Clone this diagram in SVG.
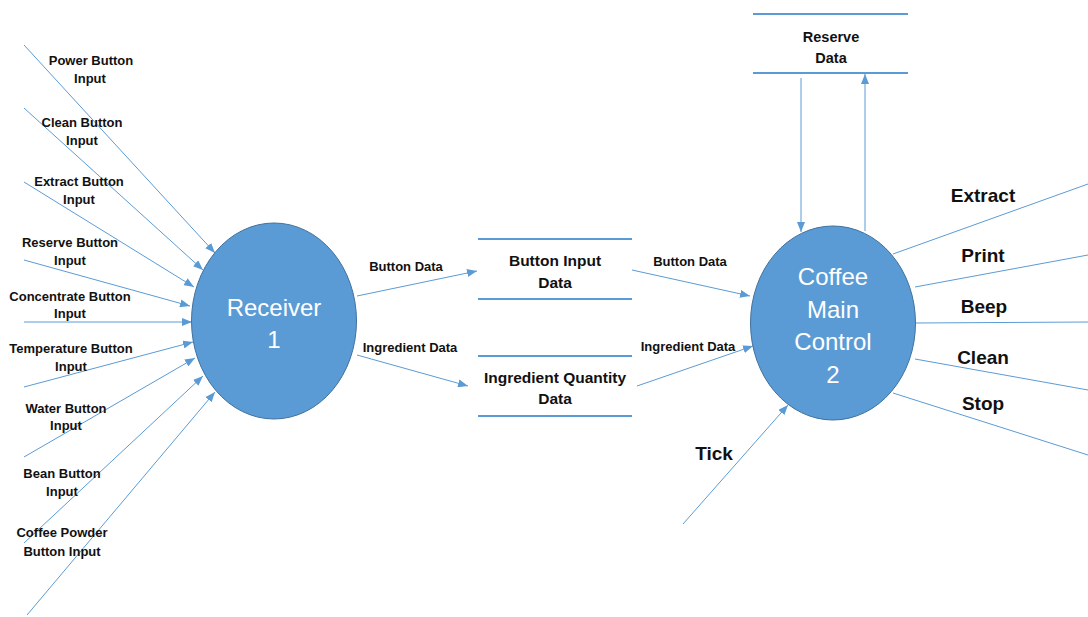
<svg xmlns="http://www.w3.org/2000/svg" width="1088" height="617" viewBox="0 0 1088 617">
  <style>
    .flow { stroke: #5b9bd5; stroke-width: 1; fill: none; }
    .arrow { marker-end: url(#head); }
    .store { stroke: #5b9bd5; stroke-width: 2; }
    .proc { fill: #5b9bd5; stroke: #41719c; stroke-width: 1; }
    .ptxt { font-family: "Liberation Sans", Arial, sans-serif; font-size: 24px; fill: #ffffff; text-anchor: middle; }
    .lbl { font-family: "Liberation Sans", Arial, sans-serif; font-size: 13px; font-weight: bold; fill: #111; text-anchor: middle; }
    .stxt { font-family: "Liberation Sans", Arial, sans-serif; font-size: 15.5px; font-weight: bold; fill: #111; text-anchor: middle; }
    .out { font-family: "Liberation Sans", Arial, sans-serif; font-size: 19px; font-weight: bold; fill: #111; text-anchor: middle; }
  </style>
  <defs>
    <marker id="head" markerUnits="userSpaceOnUse" markerWidth="10" markerHeight="8" refX="10" refY="4" orient="auto">
      <path d="M0,0 L10,4 L0,8 z" fill="#5b9bd5"/>
    </marker>
  </defs>
  <rect width="1088" height="617" fill="#ffffff"/>

  <!-- connectors -->
  <g id="connectors">
    <!-- button inputs into the receiver -->
    <line class="flow arrow" x1="24" y1="45" x2="215" y2="253"/>
    <line class="flow arrow" x1="24" y1="108" x2="203" y2="270"/>
    <line class="flow arrow" x1="24" y1="182" x2="194" y2="287"/>
    <line class="flow arrow" x1="24" y1="260" x2="190" y2="306"/>
    <line class="flow arrow" x1="24" y1="322" x2="192" y2="322"/>
    <line class="flow arrow" x1="24" y1="387" x2="193" y2="342"/>
    <line class="flow arrow" x1="24" y1="457" x2="195" y2="358"/>
    <line class="flow arrow" x1="24" y1="543" x2="203" y2="376"/>
    <line class="flow arrow" x1="27" y1="615" x2="215" y2="392"/>
    <!-- receiver to stores -->
    <line class="flow arrow" x1="357" y1="296" x2="477" y2="271"/>
    <line class="flow arrow" x1="357" y1="355" x2="468" y2="386"/>
    <!-- stores to main control -->
    <line class="flow arrow" x1="632" y1="270" x2="750" y2="296"/>
    <line class="flow arrow" x1="637" y1="386" x2="753" y2="346"/>
    <!-- tick -->
    <line class="flow arrow" x1="683" y1="524" x2="788" y2="405"/>
    <!-- reserve data read / write -->
    <line class="flow arrow" x1="801" y1="78" x2="801" y2="232"/>
    <line class="flow arrow" x1="865" y1="231" x2="865" y2="74"/>
    <!-- outputs -->
    <line class="flow" x1="893" y1="254" x2="1088" y2="184"/>
    <line class="flow" x1="915" y1="287" x2="1088" y2="255"/>
    <line class="flow" x1="915" y1="323" x2="1088" y2="322"/>
    <line class="flow" x1="915" y1="359" x2="1088" y2="390"/>
    <line class="flow" x1="893" y1="393" x2="1088" y2="455"/>
  </g>

  <!-- connector labels -->
  <g id="labels">
    <text class="lbl" x="91" y="65">Power Button</text>
    <text class="lbl" x="90" y="83">Input</text>
    <text class="lbl" x="82" y="127">Clean Button</text>
    <text class="lbl" x="82" y="145">Input</text>
    <text class="lbl" x="79" y="186">Extract Button</text>
    <text class="lbl" x="79" y="204">Input</text>
    <text class="lbl" x="70" y="247">Reserve Button</text>
    <text class="lbl" x="70" y="265">Input</text>
    <text class="lbl" x="70" y="301">Concentrate Button</text>
    <text class="lbl" x="70" y="318">Input</text>
    <text class="lbl" x="71" y="353">Temperature Button</text>
    <text class="lbl" x="71" y="371">Input</text>
    <text class="lbl" x="66" y="413">Water Button</text>
    <text class="lbl" x="66" y="430">Input</text>
    <text class="lbl" x="62" y="478">Bean Button</text>
    <text class="lbl" x="62" y="496">Input</text>
    <text class="lbl" x="62" y="537">Coffee Powder</text>
    <text class="lbl" x="62" y="556">Button Input</text>

    <text class="lbl" x="406" y="271">Button Data</text>
    <text class="lbl" x="410" y="352">Ingredient Data</text>
    <text class="lbl" x="690" y="266">Button Data</text>
    <text class="lbl" x="688" y="351">Ingredient Data</text>

    <text class="out" x="714" y="460">Tick</text>
    <text class="out" x="983" y="202">Extract</text>
    <text class="out" x="983" y="262">Print</text>
    <text class="out" x="984" y="313">Beep</text>
    <text class="out" x="983" y="364">Clean</text>
    <text class="out" x="983" y="410">Stop</text>
  </g>

  <!-- process 1 -->
  <g id="receiver">
    <ellipse class="proc" cx="274" cy="321" rx="82.5" ry="98"/>
    <text class="ptxt" x="274" y="316">Receiver</text>
    <text class="ptxt" x="274" y="348">1</text>
  </g>

  <!-- process 2 -->
  <g id="main-control">
    <ellipse class="proc" cx="833" cy="323" rx="82.5" ry="97"/>
    <text class="ptxt" x="833" y="285">Coffee</text>
    <text class="ptxt" x="833" y="318">Main</text>
    <text class="ptxt" x="833" y="350">Control</text>
    <text class="ptxt" x="833" y="383">2</text>
  </g>

  <!-- data stores -->
  <g id="button-input-data">
    <line class="store" x1="478" y1="239" x2="632" y2="239"/>
    <line class="store" x1="478" y1="299" x2="632" y2="299"/>
    <text class="stxt" x="555" y="266">Button Input</text>
    <text class="stxt" x="555" y="288">Data</text>
  </g>

  <g id="ingredient-quantity-data">
    <line class="store" x1="478" y1="356" x2="632" y2="356"/>
    <line class="store" x1="478" y1="416" x2="632" y2="416"/>
    <text class="stxt" x="555" y="383">Ingredient Quantity</text>
    <text class="stxt" x="555" y="404">Data</text>
  </g>

  <g id="reserve-data">
    <line class="store" x1="753" y1="14" x2="908" y2="14"/>
    <line class="store" x1="753" y1="73" x2="908" y2="73"/>
    <text class="stxt" x="831" y="42" style="font-size:14.5px">Reserve</text>
    <text class="stxt" x="831" y="63" style="font-size:14.5px">Data</text>
  </g>
</svg>
